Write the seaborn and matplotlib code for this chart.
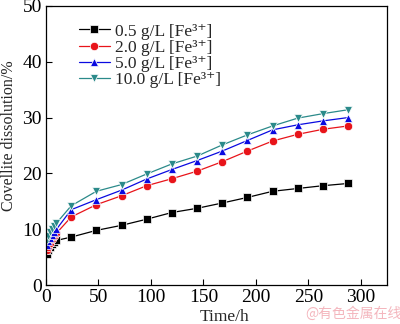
import numpy as np
import pandas as pd
import matplotlib
matplotlib.use("Agg")
import matplotlib.pyplot as plt
import seaborn as sns

# Leaching time (h)
time_h = [1, 2, 4, 6, 8, 10, 24, 48, 72, 96, 120, 144, 168, 192, 216, 240, 264, 288]

# Covellite dissolution (%) for each ferric concentration
fe_05 = [5.5, 6.3, 6.9, 7.3, 7.7, 8.0, 8.6, 9.8, 10.7, 11.8, 13.0, 13.75, 14.7, 15.7, 16.8, 17.3, 17.8, 18.2]
fe_20 = [6.2, 6.9, 7.6, 8.2, 8.8, 9.3, 12.2, 14.4, 16.0, 17.8, 19.05, 20.4, 22.1, 24.0, 25.8, 27.0, 27.9, 28.5]
fe_50 = [7.2, 7.9, 8.5, 9.0, 9.5, 10.0, 13.5, 15.3, 17.0, 19.0, 20.7, 22.3, 24.0, 25.9, 27.8, 28.7, 29.4, 30.0]
fe_100 = [8.0, 8.8, 9.5, 10.1, 10.6, 11.1, 14.2, 16.8, 18.0, 19.9, 21.7, 23.1, 25.1, 26.9, 28.5, 29.9, 30.7, 31.4]

labels = ["0.5 g/L [Fe³⁺]", "2.0 g/L [Fe³⁺]", "5.0 g/L [Fe³⁺]", "10.0 g/L [Fe³⁺]"]
colors = ["#000000", "#e8141a", "#0a0ae0", "#2b8a8a"]
markers = ["s", "o", "^", "v"]

sns.set_theme(style="ticks")
plt.rcParams["font.family"] = ["Liberation Serif", "DejaVu Serif"]

frames = []
for lab, vals in zip(labels, [fe_05, fe_20, fe_50, fe_100]):
    frames.append(pd.DataFrame({"Time": time_h, "Dissolution": vals, "Series": lab}))
df = pd.concat(frames, ignore_index=True)

fig = plt.figure(figsize=(4.0, 3.24), dpi=100)
ax = fig.add_axes([0.115, 0.12, 0.8525, 0.862])

sns.lineplot(data=df, x="Time", y="Dissolution", hue="Series", style="Series",
             hue_order=labels, style_order=labels,
             palette=colors, markers=markers, dashes=False,
             markersize=6, markeredgewidth=0.5, linewidth=0.9, ax=ax)

ax.set_xlim(0, 325)
ax.set_ylim(0, 50)
ax.set_xticks([0, 50, 100, 150, 200, 250, 300])
ax.set_yticks([0, 10, 20, 30, 40, 50])
ax.tick_params(direction="in", length=4, width=0.8, labelsize=14, colors="black", pad=3)
for s in ax.spines.values():
    s.set_visible(True)
    s.set_linewidth(0.9)
    s.set_color("black")

ax.set_xlabel("Time/h", fontsize=12.5)
ax.xaxis.set_label_coords(0.525, -0.085)
ax.set_ylabel("Covellite dissolution/%", fontsize=11.5)
ax.yaxis.set_label_coords(-0.085, 0.535)

ax.legend(loc="upper left", bbox_to_anchor=(0.075, 0.962), frameon=False,
          fontsize=12.5, handlelength=1.8, handletextpad=0.3, labelspacing=0.0,
          borderaxespad=0.0)

fig.text(0.762, 0.018, "@有色金属在线", fontsize=10, color="#f4b6bd",
         family=["Noto Sans CJK SC", "DejaVu Sans"])

fig.savefig("out.png", dpi=100)
